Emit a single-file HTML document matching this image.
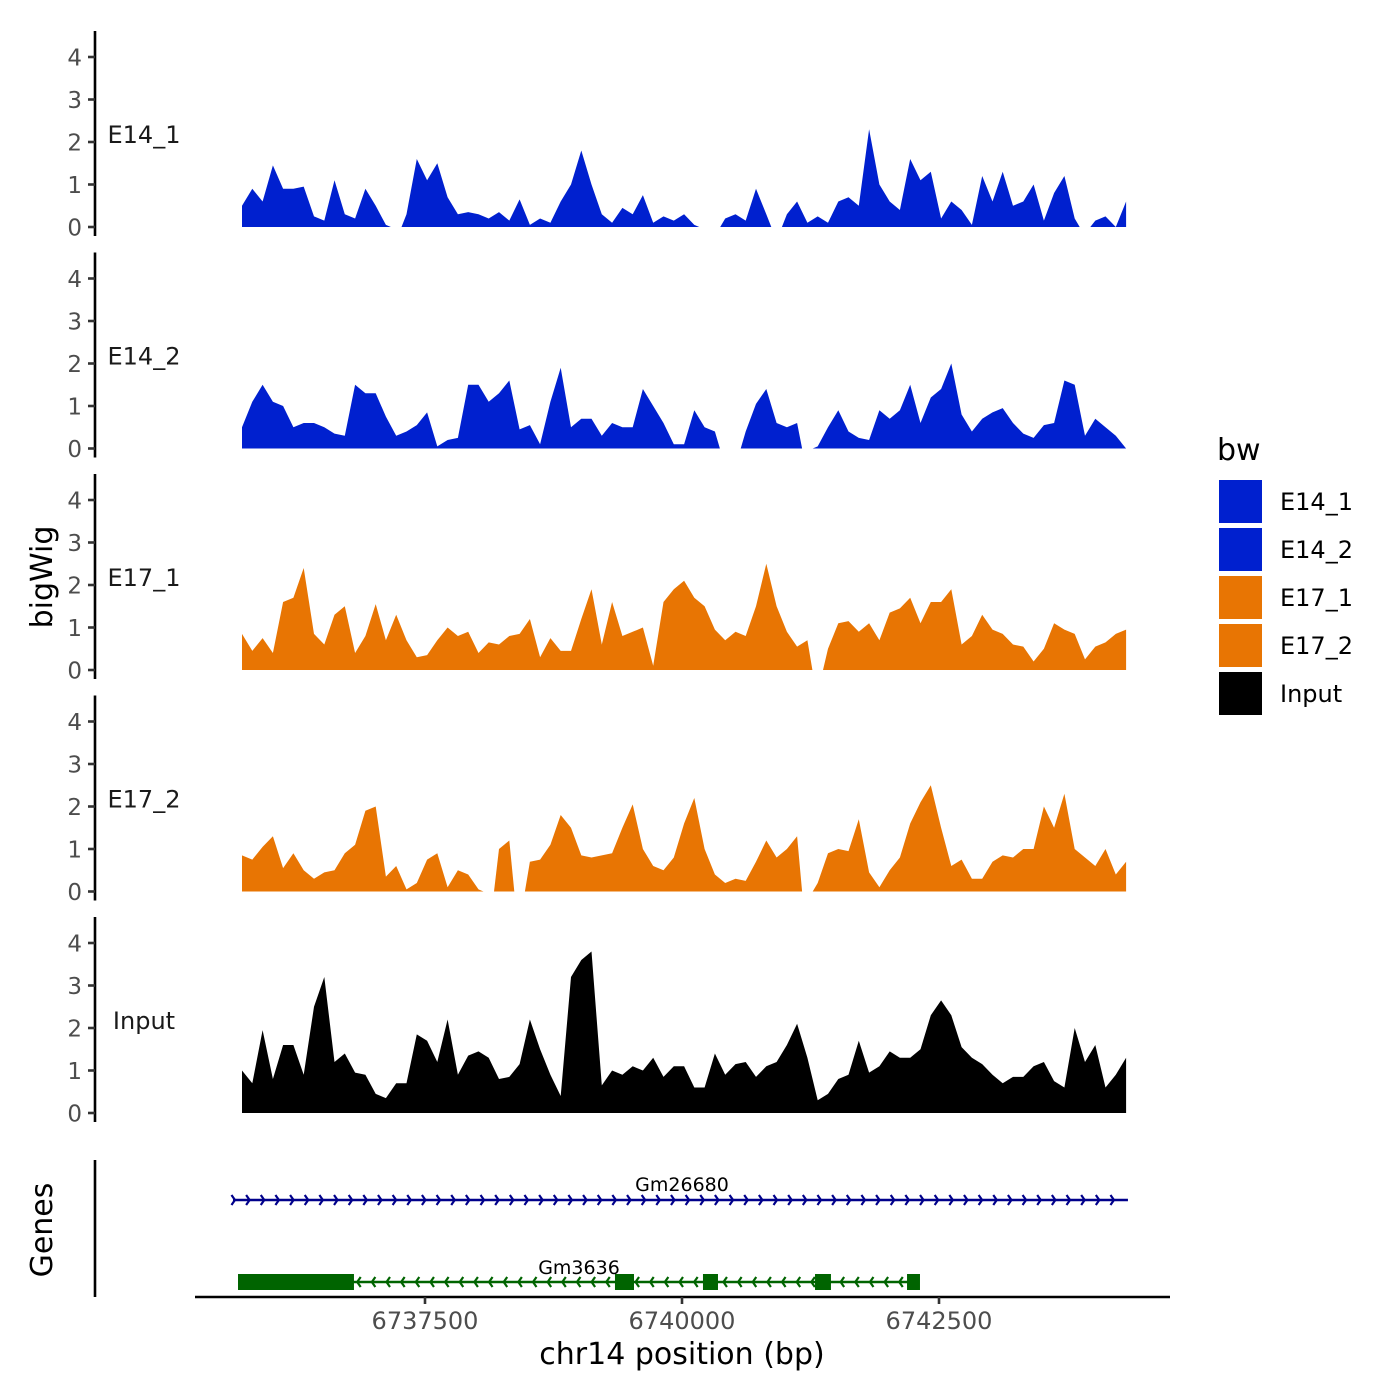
<!DOCTYPE html>
<html><head><meta charset="utf-8"><style>
html,body{margin:0;padding:0;background:#fff}
svg{display:block;font-family:"DejaVu Sans","Liberation Sans",sans-serif}
</style></head><body>
<svg id="chart" width="1400" height="1400" viewBox="0 0 1400 1400" xmlns="http://www.w3.org/2000/svg">
<g id="tracks"></g>
<g id="genes"></g>
<g id="xaxis"></g>
<text x="0" y="0" transform="translate(52,577) rotate(-90)" text-anchor="middle" font-size="30" fill="#000">bigWig</text>
<text x="0" y="0" transform="translate(52,1230) rotate(-90)" text-anchor="middle" font-size="30" fill="#000">Genes</text>
<text x="682" y="1364" text-anchor="middle" font-size="30" fill="#000">chr14 position (bp)</text>
<g id="legend">
<text x="1217" y="460" font-size="30" fill="#000">bw</text>
</g>
</svg>
<script>
const trackNames = ["E14_1","E14_2","E17_1","E17_2","Input"];
const trackColors = ["#0020CF","#0020CF","#E87503","#E87503","#000000"];
const binStart = 6735720;
const binSize = 100;
const e14_1 = [0.5,0.9,0.6,1.45,0.9,0.9,0.95,0.25,0.15,1.1,0.3,0.2,0.9,0.5,0.05,null,0.3,1.6,1.1,1.5,0.7,0.3,0.35,0.3,0.2,0.35,0.15,0.65,0.05,0.2,0.1,0.6,1.0,1.8,1.0,0.3,0.1,0.45,0.3,0.75,0.1,0.25,0.15,0.3,0.05,null,null,0.2,0.3,0.15,0.9,0.3,null,0.3,0.6,0.1,0.25,0.1,0.6,0.7,0.5,2.3,1.0,0.6,0.4,1.6,1.1,1.3,0.2,0.6,0.4,0.05,1.2,0.6,1.3,0.5,0.6,1.0,0.15,0.8,1.2,0.2,null,0.15,0.25,0.0,0.6];
const e14_2 = [0.5,1.1,1.5,1.1,1.0,0.5,0.6,0.6,0.5,0.35,0.3,1.5,1.3,1.3,0.75,0.3,0.4,0.55,0.85,0.05,0.2,0.25,1.5,1.5,1.1,1.3,1.6,0.45,0.55,0.1,1.1,1.9,0.5,0.7,0.7,0.3,0.6,0.5,0.5,1.4,1.0,0.6,0.1,0.1,0.9,0.5,0.4,null,null,0.4,1.05,1.4,0.6,0.5,0.6,null,0.05,0.5,0.9,0.4,0.25,0.2,0.9,0.7,0.9,1.5,0.6,1.2,1.4,2.0,0.8,0.4,0.7,0.85,0.95,0.6,0.35,0.25,0.55,0.6,1.6,1.5,0.3,0.7,0.5,0.3,0.0];
const e17_1 = [0.85,0.45,0.75,0.4,1.6,1.7,2.4,0.85,0.6,1.3,1.5,0.4,0.8,1.55,0.7,1.3,0.7,0.3,0.35,0.7,1.0,0.8,0.9,0.4,0.65,0.6,0.8,0.85,1.2,0.3,0.75,0.45,0.45,1.2,1.9,0.6,1.6,0.8,0.9,1.0,0.1,1.6,1.9,2.1,1.7,1.5,0.95,0.7,0.9,0.8,1.5,2.5,1.5,0.9,0.55,0.7,null,0.5,1.1,1.15,0.9,1.1,0.7,1.35,1.45,1.7,1.1,1.6,1.6,1.9,0.6,0.8,1.3,0.95,0.85,0.6,0.55,0.2,0.5,1.1,0.95,0.85,0.25,0.55,0.65,0.85,0.95];
const e17_2 = [0.85,0.75,1.05,1.3,0.55,0.9,0.5,0.3,0.45,0.5,0.9,1.1,1.9,2.0,0.35,0.6,0.05,0.2,0.75,0.9,0.1,0.5,0.4,0.05,null,1.0,1.2,null,0.7,0.75,1.1,1.8,1.5,0.85,0.8,0.85,0.9,1.5,2.05,1.0,0.6,0.5,0.8,1.6,2.2,1.0,0.4,0.2,0.3,0.25,0.7,1.2,0.8,1.0,1.3,null,0.2,0.9,1.0,0.95,1.7,0.45,0.1,0.5,0.8,1.6,2.1,2.5,1.5,0.6,0.75,0.3,0.3,0.7,0.85,0.8,1.0,1.0,2.0,1.5,2.3,1.0,0.8,0.6,1.0,0.4,0.7];
const input = [1.0,0.7,1.95,0.8,1.6,1.6,0.9,2.5,3.2,1.2,1.4,0.95,0.9,0.45,0.35,0.7,0.7,1.85,1.7,1.2,2.2,0.9,1.35,1.45,1.3,0.8,0.85,1.15,2.2,1.5,0.9,0.4,3.2,3.6,3.8,0.65,1.0,0.9,1.1,1.0,1.3,0.85,1.1,1.1,0.6,0.6,1.4,0.9,1.15,1.2,0.85,1.1,1.2,1.6,2.1,1.3,0.3,0.45,0.8,0.9,1.7,0.95,1.1,1.45,1.3,1.3,1.5,2.3,2.65,2.3,1.55,1.3,1.15,0.9,0.7,0.85,0.85,1.1,1.2,0.75,0.6,2.0,1.2,1.6,0.6,0.9,1.3];
const yTicks = [0,1,2,3,4];
const xTicks = [6737500,6740000,6742500];
const xTickLabels = ["6737500","6740000","6742500"];
const geneNames = ["Gm26680","Gm3636"];
const geneStarts = [6735632,6735681];
const geneEnds = [6744338,6742267];
const geneStrands = ["+","-"];
const gm3636ExonStarts = [6735681,6739348,6740204,6741294,6742189];
const gm3636ExonEnds = [6736809,6739533,6740350,6741449,6742315];

const NS = "http://www.w3.org/2000/svg";
const series = [e14_1,e14_2,e17_1,e17_2,input];
function xs(bp){ return 425 + (bp - 6737500) * 0.1028; }
const panelZero = [227,448.5,670,891.5,1113];
function ys(p, v){ return panelZero[p] - v * 42.5; }
function mk(tag, attrs, parent){ const e=document.createElementNS(NS,tag); for(const k in attrs) e.setAttribute(k,attrs[k]); parent.appendChild(e); return e; }

const tracks = document.getElementById('tracks');
series.forEach((vals,p)=>{
  const g = mk('g',{},tracks);
  
  
  const top = panelZero[p] - 196, bot = panelZero[p] + 9;
  const ax = mk('line',{x1:95,x2:95,y1:top,y2:bot,stroke:'#000','stroke-width':2.6},g);
  
  
  yTicks.forEach(t=>{
    const y = ys(p,t);
    const tk = mk('line',{x1:88,x2:95,y1:y,y2:y,stroke:'#333','stroke-width':2.6},g);
    
    
    const tl = mk('text',{x:82,y:y+8.5,'text-anchor':'end','font-size':23,fill:'#4D4D4D'},g);
    tl.textContent = t;
    
    
  });
  const lb = mk('text',{x:144,y:ys(p,2.1)+5,'text-anchor':'middle','font-size':24,fill:'#1a1a1a'},g);
  lb.textContent = trackNames[p];
  
  
  let seg = [];
  let afterGap = false;
  const flush = (gapAfter)=>{
    if(seg.length>1){
      const x0 = afterGap ? seg[0][0]-5 : seg[0][0];
      const xe = gapAfter ? seg[seg.length-1][0]+5 : seg[seg.length-1][0];
      let d = 'M'+x0.toFixed(1)+','+ys(p,0);
      seg.forEach(q=>{ d += 'L'+q[0].toFixed(1)+','+q[1].toFixed(1); });
      d += 'L'+xe.toFixed(1)+','+ys(p,0)+'Z';
      const a = mk('path',{d:d,fill:trackColors[p]},g);
      
      
    }
    seg = [];
  };
  vals.forEach((v,i)=>{
    if(v===null){ if(seg.length){ flush(true); } afterGap = true; return; }
    seg.push([xs(binStart + i*binSize), ys(p,v)]);
    if(seg.length===1 && i>0 && vals[i-1]===null) afterGap = true; else if(seg.length===1) afterGap=false;
  });
  flush(false);
});

const genes = document.getElementById('genes');
const ga = mk('line',{x1:95,x2:95,y1:1160,y2:1297,stroke:'#000','stroke-width':2.6},genes);


const geneY = [1200,1282];
const geneCol = ["#00008B","#006400"];
geneNames.forEach((n,k)=>{
  const g = mk('g',{},genes);
  
  
  const x1 = xs(geneStarts[k]), x2 = xs(geneEnds[k]), y = geneY[k];
  mk('line',{x1:x1,x2:x2,y1:y,y2:y,stroke:geneCol[k],'stroke-width':2.5},g);
  let d='';
  for(let x=x1+2; x<=x2; x+=14.65){
    if(geneStrands[k]==='+') d += 'M'+(x-3.5)+','+(y-5)+'L'+x+','+y+'L'+(x-3.5)+','+(y+5);
    else d += 'M'+(x+3.5)+','+(y-5)+'L'+x+','+y+'L'+(x+3.5)+','+(y+5);
  }
  const ch = mk('path',{d:d,stroke:geneCol[k],'stroke-width':2.2,fill:'none'},g);
  
  
  const t = mk('text',{x:k===0?682:579,y:k===0?1191:1274,'text-anchor':'middle','font-size':19,fill:'#000'},g);
  t.textContent = n;
  
  
  if(k===1){
    gm3636ExonStarts.forEach((s,j)=>{
      const ex = mk('rect',{x:xs(s),y:y-8,width:xs(gm3636ExonEnds[j])-xs(s),height:16,fill:geneCol[k]},g);
      
      
    });
  }
});

const xa = document.getElementById('xaxis');
const xl = mk('line',{x1:195,x2:1170,y1:1297,y2:1297,stroke:'#000','stroke-width':2.6},xa);


xTicks.forEach((t,i)=>{
  const x = xs(t);
  const tk = mk('line',{x1:x,x2:x,y1:1297,y2:1304,stroke:'#333','stroke-width':2.6},xa);
  
  
  const tl = mk('text',{x:x,y:1329,'text-anchor':'middle','font-size':24,fill:'#4D4D4D'},xa);
  tl.textContent = xTickLabels[i];
  
  
});

const lg = document.getElementById('legend');
trackNames.forEach((n,i)=>{
  const y = 480 + i*48;
  const r = mk('rect',{x:1219,y:y,width:43,height:43,fill:trackColors[i]},lg);
  
  
  const t = mk('text',{x:1280,y:y+30,'font-size':24,fill:'#000'},lg);
  t.textContent = n;
  
  
});
</script>
</body></html>
